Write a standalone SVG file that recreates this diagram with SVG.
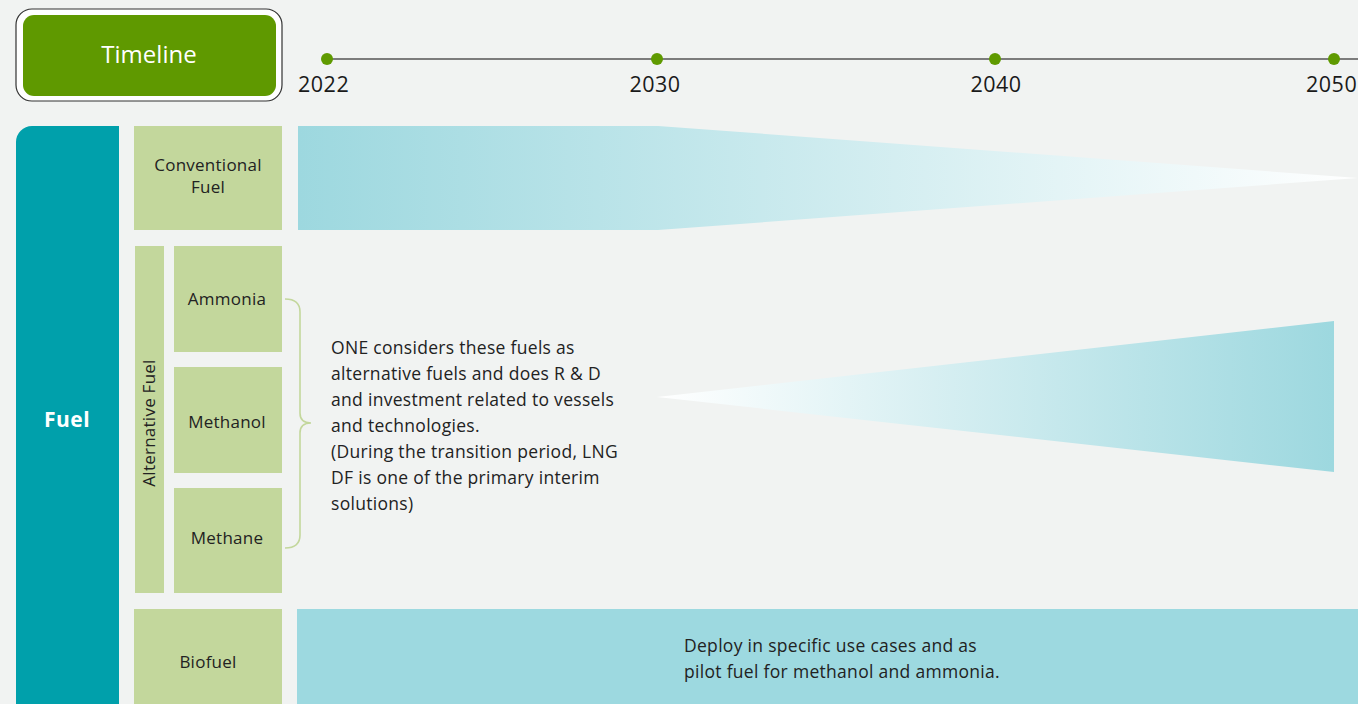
<svg xmlns="http://www.w3.org/2000/svg" width="1358" height="704" viewBox="0 0 1358 704">
<defs>
<linearGradient id="gConv" x1="298" y1="0" x2="1358" y2="0" gradientUnits="userSpaceOnUse">
<stop offset="0" stop-color="#9dd8df"/>
<stop offset="1" stop-color="#ffffff"/>
</linearGradient>
<linearGradient id="gAlt" x1="657" y1="0" x2="1334" y2="0" gradientUnits="userSpaceOnUse">
<stop offset="0" stop-color="#ffffff"/>
<stop offset="1" stop-color="#9dd8df"/>
</linearGradient>
<style>
text{font-family:"Open Sans","Liberation Sans",sans-serif;fill:#222;}
.green{fill:#c3d79c;}
.lbl{font-size:17px;letter-spacing:0.25px;text-anchor:middle;}
.yr{font-size:21.5px;letter-spacing:0.5px;fill:#1a1a1a;}
.body{font-size:17.5px;letter-spacing:0.3px;}
.dot{fill:#5f9a00;}
</style>
</defs>
<rect width="1358" height="704" fill="#f1f3f2"/>

<g id="timeline-header">
<rect x="16" y="9" width="266" height="92" rx="16" fill="#ffffff" stroke="#333" stroke-width="1.2"/>
<rect x="23" y="15" width="253" height="81" rx="11" fill="#5f9900"/>
<text x="149" y="63" style="font-size:24px;fill:#fff;text-anchor:middle">Timeline</text>
</g>

<g id="axis">
<line x1="327" y1="59" x2="1358" y2="59" stroke="#555" stroke-width="1.3"/>
<circle class="dot" cx="327" cy="59" r="6"/>
<circle class="dot" cx="657" cy="59" r="6"/>
<circle class="dot" cx="995" cy="59" r="6"/>
<circle class="dot" cx="1334" cy="59" r="6"/>
<text class="yr" x="298" y="92">2022</text>
<text class="yr" x="655" y="92" text-anchor="middle">2030</text>
<text class="yr" x="996" y="92" text-anchor="middle">2040</text>
<text class="yr" x="1306" y="92">2050</text>
</g>

<g id="fuel">
<path d="M16,142 a16,16 0 0 1 16,-16 H119 V704 H16 Z" fill="#00a0ab"/>
<text x="67" y="427" style="font-size:21px;letter-spacing:0.5px;font-weight:bold;fill:#fff;text-anchor:middle">Fuel</text>
</g>

<g id="conventional-fuel">
<rect class="green" x="134" y="126" width="148" height="104"/>
<text class="lbl" x="208" y="171">Conventional</text>
<text class="lbl" x="208" y="193">Fuel</text>
</g>

<g id="alternative-fuel">
<rect class="green" x="135" y="246" width="29" height="347"/>
<text class="lbl" transform="translate(155,423) rotate(-90)" x="0" y="0">Alternative Fuel</text>
</g>

<g id="ammonia">
<rect class="green" x="174" y="246" width="108" height="106"/>
<text class="lbl" x="227" y="305">Ammonia</text>
</g>
<g id="methanol">
<rect class="green" x="174" y="367" width="108" height="106"/>
<text class="lbl" x="227" y="428">Methanol</text>
</g>
<g id="methane">
<rect class="green" x="174" y="488" width="108" height="105"/>
<text class="lbl" x="227" y="544">Methane</text>
</g>

<g id="biofuel">
<rect class="green" x="134" y="609" width="148" height="95"/>
<text class="lbl" x="208" y="668">Biofuel</text>
</g>

<g id="connectors">
<path d="M285,299 Q300,299 300,312 V413 Q300,423 311,423 Q300,423 300,433 V535 Q300,548 285,548" fill="none" stroke="#c3d79c" stroke-width="1.6"/>
</g>

<g id="conventional-bar">
<polygon points="298,126 658,126 1358,178 658,230 298,230" fill="url(#gConv)"/>
</g>

<g id="alternative-bar">
<polygon points="657,397 1334,321 1334,472" fill="url(#gAlt)"/>
<text class="body" x="331" y="354">ONE considers these fuels as</text>
<text class="body" x="331" y="380">alternative fuels and does R &amp; D</text>
<text class="body" x="331" y="406">and investment related to vessels</text>
<text class="body" x="331" y="432">and technologies.</text>
<text class="body" x="331" y="458">(During the transition period, LNG</text>
<text class="body" x="331" y="484">DF is one of the primary interim</text>
<text class="body" x="331" y="510">solutions)</text>
</g>

<g id="biofuel-bar">
<rect x="297" y="609" width="1061" height="95" fill="#9dd9e0"/>
<text class="body" x="684" y="652">Deploy in specific use cases and as</text>
<text class="body" x="684" y="678">pilot fuel for methanol and ammonia.</text>
</g>
</svg>
